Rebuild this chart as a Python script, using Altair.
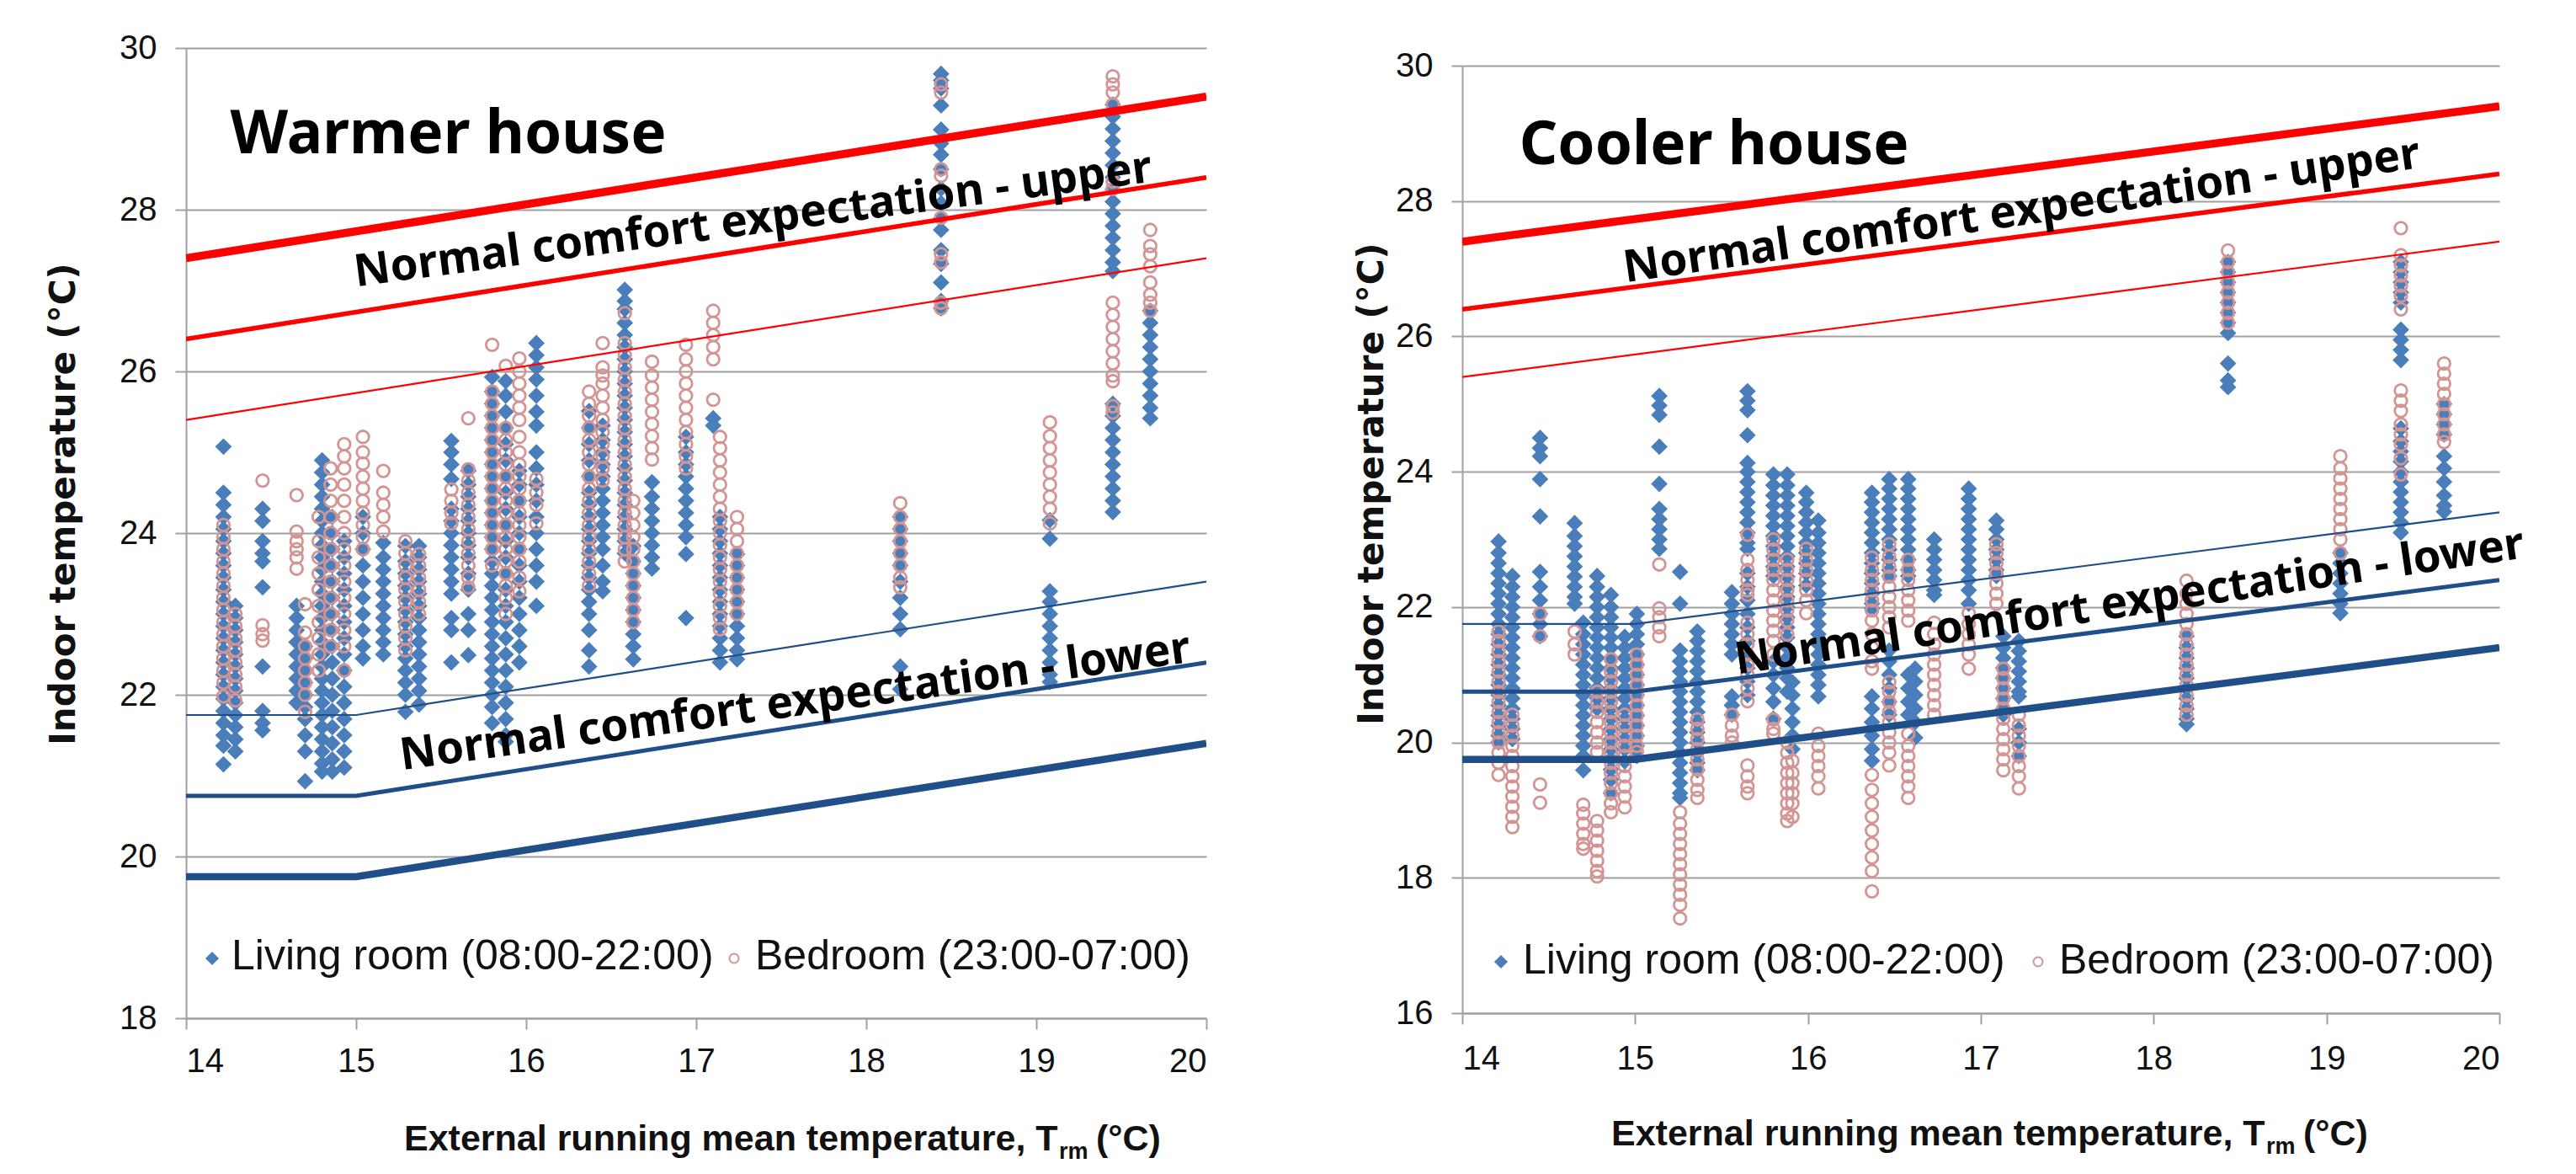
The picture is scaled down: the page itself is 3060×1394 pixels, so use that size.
import altair as alt
import pandas as pd

# ---------------- data ----------------
X_TICKS = [14, 15, 16, 17, 18, 19, 20]
WARM_Y_TICKS = [18, 20, 22, 24, 26, 28, 30]
COOL_Y_TICKS = [16, 18, 20, 22, 24, 26, 28, 30]
SERIES = ["Living room (08:00-22:00)", "Bedroom (23:00-07:00)"]
HOUSES = ["Warmer house", "Cooler house"]
LABEL_UPPER = "Normal  comfort expectation - upper"
LABEL_LOWER = "Normal  comfort expectation - lower"

# comfort band lines (knots)
UPPER_X = [14, 20]
UPPER_THICK = [27.4, 29.4]
UPPER_MID = [26.4, 28.4]
UPPER_THIN = [25.4, 27.4]
LOWER_X = [14, 15, 20]
LOWER_THIN = [21.75, 21.75, 23.4]
LOWER_MID = [20.75, 20.75, 22.4]
LOWER_THICK = [19.75, 19.75, 21.4]

# Warmer house - living room
WARM_LIV_X = [14.22, 14.29, 14.45, 14.65, 14.70, 14.80, 14.86, 14.93, 15.04, 15.16, 15.29, 15.37,
              15.56, 15.66, 15.80, 15.88, 15.96, 16.06, 16.37, 16.45, 16.58, 16.63, 16.74, 16.94,
              17.10, 17.14, 17.24, 18.20, 18.44, 19.08, 19.45, 19.67]
WARM_LIV_Y = [
    [25.07, 24.5, 24.35, 24.2, 24.05, 23.9, 23.75, 23.6, 23.45, 23.3, 23.15, 23.0, 22.85, 22.7, 22.55, 22.4, 22.25, 22.1, 21.95, 21.8, 21.65, 21.5, 21.37, 21.14],
    [23.1, 22.95, 22.8, 22.65, 22.5, 22.35, 22.2, 22.05, 21.9, 21.75, 21.6, 21.45, 21.3],
    [24.3, 24.15, 23.9, 23.75, 23.65, 23.33, 22.35, 21.8, 21.65, 21.56],
    [23.1, 22.95, 22.8, 22.65, 22.5, 22.35, 22.2, 22.05, 21.9],
    [22.6, 22.45, 22.3, 22.15, 22.0, 21.85, 21.7, 21.5, 21.3, 20.93],
    [24.9, 24.75, 24.6, 24.45, 24.3, 24.15, 24.0, 23.85, 23.7, 23.55, 23.4, 23.25, 23.1, 22.95, 22.8, 22.65, 22.5, 22.35, 22.2, 22.05, 21.9, 21.75, 21.6, 21.45, 21.3, 21.15, 21.05],
    [24.2, 24.0, 23.8, 23.6, 23.4, 23.2, 23.0, 22.8, 22.6, 22.4, 22.2, 22.0, 21.8, 21.6, 21.4, 21.2, 21.05],
    [23.9, 23.7, 23.5, 23.3, 23.1, 22.9, 22.7, 22.5, 22.3, 22.1, 21.9, 21.7, 21.5, 21.3, 21.1],
    [24.2, 24.0, 23.8, 23.6, 23.4, 23.2, 23.0, 22.8, 22.6, 22.45],
    [23.88, 23.7, 23.55, 23.4, 23.25, 23.1, 22.95, 22.8, 22.65, 22.5],
    [23.84, 23.65, 23.5, 23.35, 23.2, 23.05, 22.9, 22.75, 22.6, 22.45, 22.3, 22.15, 22.0, 21.79],
    [23.84, 23.7, 23.55, 23.4, 23.25, 23.1, 22.95, 22.8, 22.65, 22.5, 22.35, 22.2, 22.05, 21.88],
    [25.14, 25.0, 24.85, 24.67, 24.3, 24.15, 24.0, 23.85, 23.7, 23.55, 23.4, 23.25, 22.95, 22.8, 22.4],
    [24.77, 24.6, 24.45, 24.3, 24.15, 24.0, 23.85, 23.7, 23.5, 23.3, 23.0, 22.8, 22.49],
    [25.93, 25.75, 25.6, 25.45, 25.3, 25.15, 25.0, 24.85, 24.7, 24.55, 24.4, 24.25, 24.1, 23.95, 23.8, 23.65, 23.5, 23.35, 23.2, 23.05, 22.9, 22.75, 22.6, 22.45, 22.3, 22.15, 22.0, 21.85, 21.65],
    [25.88, 25.7, 25.5, 25.3, 25.1, 24.9, 24.7, 24.5, 24.3, 24.1, 23.9, 23.7, 23.5, 23.3, 23.1, 22.9, 22.7, 22.5, 22.3, 22.1, 21.9, 21.7, 21.5, 21.42],
    [24.77, 24.6, 24.4, 24.2, 24.0, 23.8, 23.6, 23.4, 23.2, 23.0, 22.8, 22.6, 22.4],
    [26.35, 26.2, 26.05, 25.9, 25.7, 25.5, 25.33, 25.0, 24.8, 24.6, 24.4, 24.2, 24.0, 23.8, 23.6, 23.4, 23.1],
    [25.51, 25.3, 25.1, 24.9, 24.7, 24.5, 24.35, 24.2, 24.05, 23.9, 23.75, 23.6, 23.45, 23.3, 23.15, 23.0, 22.8, 22.55, 22.35],
    [25.33, 25.15, 25.0, 24.85, 24.7, 24.55, 24.4, 24.25, 24.1, 23.95, 23.8, 23.6, 23.4, 23.28],
    [27.01, 26.87, 26.77, 26.6, 26.45, 26.3, 26.15, 26.0, 25.85, 25.7, 25.55, 25.4, 25.25, 25.1, 24.95, 24.8, 24.65, 24.5, 24.35, 24.2, 24.05, 23.9, 23.75],
    [23.84, 23.65, 23.5, 23.35, 23.2, 23.05, 22.9, 22.75, 22.6, 22.44],
    [24.63, 24.45, 24.3, 24.15, 24.0, 23.85, 23.7, 23.56],
    [25.19, 25.0, 24.85, 24.7, 24.55, 24.4, 24.25, 24.1, 23.95, 23.74, 22.95],
    [25.42, 25.33],
    [24.2, 24.05, 23.9, 23.75, 23.6, 23.45, 23.3, 23.15, 23.0, 22.85, 22.7, 22.55, 22.4],
    [23.74, 23.6, 23.45, 23.3, 23.15, 23.0, 22.85, 22.7, 22.55, 22.44],
    [24.2, 24.05, 23.9, 23.75, 23.6, 23.4, 23.2, 23.0, 22.81, 22.35, 22.07],
    [29.68, 29.6, 29.5, 29.29, 28.99, 28.82, 28.68, 28.5, 28.26, 28.08, 27.89, 27.75, 27.5, 27.33, 27.1, 26.87, 26.78],
    [24.16, 23.93, 23.28, 23.15, 23.0, 22.85, 22.7, 22.55, 22.4, 22.25, 22.16],
    [29.3, 29.15, 29.0, 28.85, 28.7, 28.55, 28.4, 28.25, 28.1, 27.95, 27.8, 27.65, 27.5, 27.35, 27.24, 25.6, 25.45, 25.3, 25.15, 25.0, 24.85, 24.7, 24.55, 24.4, 24.26],
    [26.75, 26.6, 26.45, 26.3, 26.15, 26.0, 25.85, 25.7, 25.55, 25.42],
]

# Warmer house - bedroom
WARM_BED_X = [14.22, 14.29, 14.45, 14.65, 14.70, 14.78, 14.85, 14.93, 15.04, 15.16, 15.29, 15.37,
              15.56, 15.66, 15.80, 15.88, 15.96, 16.06, 16.37, 16.45, 16.58, 16.63, 16.74, 16.94,
              17.10, 17.14, 17.24, 18.20, 18.44, 19.08, 19.45, 19.67]
WARM_BED_Y = [
    [24.1, 23.95, 23.8, 23.65, 23.5, 23.35, 23.2, 23.05, 22.9, 22.75, 22.6, 22.45, 22.3, 22.15, 21.98],
    [23.0, 22.85, 22.7, 22.55, 22.4, 22.25, 22.1, 21.93],
    [24.65, 22.86, 22.75, 22.67],
    [24.47, 24.02, 23.9, 23.8, 23.7, 23.56],
    [23.12, 22.77, 22.6, 22.45, 22.3, 22.15, 22.0, 21.79],
    [24.2, 23.9, 23.7, 23.5, 23.3, 23.1, 22.9, 22.7, 22.5, 22.3],
    [24.8, 24.6, 24.4, 24.2, 24.0, 23.8, 23.6, 23.4, 23.2, 23.0, 22.8, 22.6],
    [25.1, 24.95, 24.8, 24.6, 24.4, 24.2, 24.0, 23.8, 23.6, 23.4, 23.2, 23.0, 22.8, 22.6, 22.3],
    [25.19, 25.0, 24.86, 24.7, 24.55, 24.4, 24.25, 24.1, 23.95, 23.8],
    [24.77, 24.5, 24.35, 24.2, 24.02],
    [23.9, 23.75, 23.6, 23.45, 23.3, 23.15, 23.0, 22.85, 22.7, 22.55],
    [23.74, 23.6, 23.45, 23.3, 23.15, 23.0],
    [24.54, 24.4, 24.25, 24.12],
    [25.42, 24.79, 24.65, 24.5, 24.35, 24.2, 24.05, 23.9, 23.75, 23.6, 23.45, 23.33],
    [26.33, 25.75, 25.6, 25.45, 25.3, 25.15, 25.0, 24.85, 24.7, 24.55, 24.4, 24.25, 24.1, 23.95, 23.8, 23.6],
    [26.07, 25.3, 25.15, 25.0, 24.85, 24.7, 24.55, 24.4, 24.25, 24.1, 23.95, 23.8, 23.65, 23.5, 23.35, 23.2, 23.0],
    [26.16, 26.0, 25.85, 25.7, 25.55, 25.4, 25.19, 25.0, 24.85, 24.7, 24.55, 24.4, 24.25, 24.1, 23.95, 23.8, 23.65, 23.45, 23.28],
    [24.67, 24.5, 24.35, 24.12],
    [25.75, 25.6, 25.45, 25.3, 25.15, 25.0, 24.85, 24.7, 24.55, 24.4, 24.25, 24.1, 23.95, 23.8, 23.65, 23.5, 23.35],
    [26.35, 26.05, 25.95, 25.85, 25.7, 25.55, 25.4, 25.25, 25.1, 24.95, 24.8, 24.65],
    [26.72, 26.35, 26.2, 26.05, 25.9, 25.75, 25.6, 25.45, 25.3, 25.15, 25.0, 24.85, 24.7, 24.55, 24.4, 24.25, 24.1, 23.95, 23.8, 23.65],
    [24.4, 24.25, 24.1, 23.95, 23.8, 23.65, 23.5, 23.35, 23.2, 23.05, 22.9],
    [26.12, 25.95, 25.8, 25.65, 25.5, 25.35, 25.2, 25.05, 24.91],
    [26.33, 26.15, 26.0, 25.85, 25.7, 25.55, 25.4, 25.25, 25.1, 24.95, 24.8],
    [26.75, 26.6, 26.45, 26.3, 26.15, 25.65],
    [25.19, 25.05, 24.9, 24.75, 24.6, 24.45, 24.3, 24.15, 24.0, 23.85, 23.7, 23.55, 23.4, 23.25, 23.1, 22.95, 22.81],
    [24.2, 24.05, 23.9, 23.75, 23.6, 23.45, 23.3, 23.15, 23.0],
    [24.37, 24.2, 24.05, 23.9, 23.75, 23.6, 23.45, 23.33],
    [29.55, 29.45, 28.5, 28.42, 27.9, 27.45, 27.35, 26.85, 26.78],
    [25.37, 25.2, 25.05, 24.9, 24.75, 24.6, 24.45, 24.3, 24.12],
    [29.65, 29.55, 29.45, 29.3, 28.35, 28.26, 26.85, 26.7, 26.55, 26.4, 26.25, 26.1, 25.95, 25.88, 25.57, 25.49],
    [27.75, 27.55, 27.45, 27.3, 27.1, 26.95, 26.85, 26.75],
]

# Cooler house - living room
COOL_LIV_X = [14.21, 14.29, 14.45, 14.65, 14.70, 14.78, 14.86, 14.94, 15.01, 15.14, 15.26, 15.36,
              15.56, 15.65, 15.80, 15.88, 15.91, 15.99, 16.06, 16.37, 16.47, 16.58, 16.62, 16.73,
              16.93, 17.09, 17.13, 17.22, 18.19, 18.43, 19.08, 19.43, 19.68]
COOL_LIV_Y = [
    [22.97, 22.8, 22.65, 22.5, 22.35, 22.2, 22.05, 21.9, 21.75, 21.6, 21.45, 21.3, 21.15, 21.0, 20.85, 20.7, 20.55, 20.4, 20.25, 20.1, 20.0],
    [22.46, 22.3, 22.15, 22.0, 21.85, 21.7, 21.55, 21.4, 21.25, 21.1, 20.95, 20.8, 20.65, 20.5, 20.35, 20.2, 20.05],
    [24.5, 24.35, 24.23, 23.89, 23.34, 22.52, 22.3, 22.1, 21.9, 21.75, 21.57],
    [23.24, 23.05, 22.9, 22.75, 22.6, 22.45, 22.3, 22.15, 22.05],
    [21.77, 21.6, 21.45, 21.3, 21.15, 21.0, 20.85, 20.7, 20.55, 20.4, 20.25, 20.1, 19.95, 19.8, 19.59],
    [22.46, 22.3, 22.15, 22.0, 21.85, 21.7, 21.55, 21.4, 21.25, 21.1, 20.95, 20.8, 20.65, 20.5],
    [22.18, 22.0, 21.85, 21.7, 21.55, 21.4, 21.25, 21.1, 20.95, 20.8, 20.65, 20.5, 20.35, 20.2, 20.05, 19.9, 19.75, 19.6, 19.45, 19.25],
    [21.56, 21.4, 21.25, 21.1, 20.95, 20.8, 20.65, 20.5, 20.35, 20.2, 20.05, 19.9, 19.72],
    [21.9, 21.75, 21.6, 21.45, 21.3, 21.15, 21.0, 20.85, 20.7, 20.55, 20.4, 20.25, 20.1, 19.95, 19.8],
    [25.12, 24.98, 24.84, 24.37, 23.82, 23.45, 23.3, 23.15, 23.0, 22.86],
    [22.52, 22.05, 21.36, 21.2, 21.05, 20.9, 20.75, 20.6, 20.45, 20.3, 20.15, 20.0, 19.85, 19.7, 19.55, 19.4, 19.25, 19.18],
    [21.64, 21.5, 21.35, 21.2, 21.05, 20.9, 20.75, 20.6, 20.45, 20.3, 20.15, 20.0, 19.85, 19.7, 19.59],
    [22.22, 22.05, 21.9, 21.75, 21.6, 21.45, 21.3, 20.68, 20.55, 20.41],
    [25.19, 25.05, 24.91, 24.54, 24.13, 24.0, 23.85, 23.7, 23.55, 23.4, 23.25, 23.1, 22.95, 22.86, 22.5, 22.3, 22.1, 21.9, 21.7, 21.5, 21.3, 21.1, 20.9, 20.7],
    [23.96, 23.8, 23.65, 23.5, 23.35, 23.2, 23.05, 22.9, 22.75, 22.6, 22.46, 21.2, 21.0, 20.8, 20.6, 20.35],
    [23.96, 23.8, 23.65, 23.5, 23.35, 23.2, 23.05, 22.9, 22.75, 22.6, 22.45, 22.3, 22.15, 22.0, 21.85, 21.7, 21.55, 21.4, 21.25, 21.1, 20.95, 20.75],
    [20.89, 20.7, 20.5, 20.3, 20.1, 19.9],
    [23.69, 23.55, 23.4, 23.25, 23.1, 22.95, 22.8, 22.65, 22.5, 22.32],
    [23.28, 23.1, 22.95, 22.8, 22.65, 22.5, 22.35, 22.2, 22.05, 21.9, 21.75, 21.6, 21.45, 21.3, 21.15, 21.0, 20.85, 20.68],
    [23.69, 23.55, 23.4, 23.25, 23.1, 22.95, 22.8, 22.65, 22.5, 22.35, 22.2, 22.05, 21.98, 20.68, 20.5, 20.3, 20.1, 19.9, 19.73],
    [23.89, 23.75, 23.6, 23.45, 23.3, 23.15, 23.0, 22.85, 22.7, 22.55, 22.46, 21.36, 21.2, 21.0, 20.8, 20.6, 20.41],
    [23.89, 23.75, 23.6, 23.45, 23.3, 23.15, 23.0, 22.85, 22.7, 22.55, 22.46, 21.0, 20.8, 20.6, 20.41],
    [21.09, 20.9, 20.7, 20.5, 20.3, 20.07],
    [23.0, 22.85, 22.7, 22.55, 22.4, 22.25, 22.18],
    [23.75, 23.6, 23.45, 23.3, 23.15, 23.0, 22.85, 22.7, 22.55, 22.4, 22.25, 22.05],
    [23.28, 23.15, 23.0, 22.85, 22.7, 22.55, 22.46],
    [21.57, 21.4, 21.25, 21.1, 20.95, 20.8, 20.65, 20.5, 20.41],
    [21.5, 21.35, 21.2, 21.05, 20.9, 20.75, 20.68, 20.2, 20.0, 19.8],
    [21.57, 21.4, 21.25, 21.1, 20.95, 20.8, 20.65, 20.5, 20.35, 20.27],
    [27.1, 26.95, 26.8, 26.65, 26.5, 26.35, 26.2, 26.05, 25.6, 25.35, 25.25],
    [22.8, 22.65, 22.5, 22.35, 22.2, 22.05, 21.91],
    [27.1, 26.95, 26.8, 26.65, 26.5, 26.1, 25.95, 25.8, 25.65, 24.64, 24.45, 24.3, 24.15, 24.0, 23.85, 23.7, 23.55, 23.4, 23.25, 23.1],
    [25.0, 24.85, 24.7, 24.55, 24.23, 24.05, 23.85, 23.65, 23.5, 23.41],
]

# Cooler house - bedroom
COOL_BED_X = [14.21, 14.29, 14.45, 14.65, 14.70, 14.78, 14.86, 14.94, 15.01, 15.14, 15.26, 15.36,
              15.56, 15.65, 15.80, 15.88, 15.91, 15.99, 16.06, 16.37, 16.47, 16.58, 16.73, 16.93,
              17.09, 17.13, 17.22, 18.19, 18.43, 19.08, 19.43, 19.68]
COOL_BED_Y = [
    [21.64, 21.5, 21.35, 21.2, 21.05, 20.9, 20.75, 20.6, 20.45, 20.3, 20.15, 20.0, 19.85, 19.7, 19.52],
    [20.41, 20.25, 20.1, 19.95, 19.8, 19.65, 19.5, 19.35, 19.2, 19.05, 18.9, 18.75],
    [21.9, 21.57, 19.38, 19.11],
    [21.64, 21.45, 21.3],
    [19.08, 18.95, 18.8, 18.65, 18.5, 18.43],
    [20.75, 20.6, 20.45, 20.3, 20.15, 20.0, 19.86, 18.84, 18.7, 18.55, 18.4, 18.25, 18.1, 18.02],
    [21.23, 21.05, 20.9, 20.75, 20.6, 20.45, 20.3, 20.15, 20.0, 19.85, 19.7, 19.55, 19.4, 19.25, 19.1, 18.97],
    [20.41, 20.25, 20.1, 19.95, 19.8, 19.65, 19.5, 19.35, 19.2, 19.04],
    [21.3, 21.15, 21.0, 20.85, 20.7, 20.55, 20.4, 20.25, 20.1, 19.95, 19.86],
    [22.63, 21.98, 21.85, 21.7, 21.57],
    [18.97, 18.8, 18.65, 18.5, 18.35, 18.2, 18.05, 17.9, 17.75, 17.6, 17.4],
    [20.34, 20.2, 20.05, 19.9, 19.75, 19.6, 19.45, 19.3, 19.18],
    [20.41, 20.25, 20.1, 20.0],
    [23.07, 22.7, 22.55, 22.4, 22.25, 22.18, 21.77, 21.6, 21.45, 21.3, 21.15, 21.0, 20.8, 20.61, 19.66, 19.5, 19.35, 19.25],
    [23.0, 22.85, 22.7, 22.55, 22.4, 22.25, 22.1, 21.95, 21.8, 21.65, 21.5, 21.3, 20.34, 20.2, 20.13],
    [22.7, 22.55, 22.4, 22.25, 22.1, 21.95, 21.8, 21.6, 20.0, 19.85, 19.7, 19.55, 19.4, 19.25, 19.1, 18.95, 18.84],
    [19.73, 19.55, 19.4, 19.25, 19.1, 18.9],
    [22.86, 22.7, 22.55, 22.4, 22.25, 22.1, 21.91],
    [20.13, 19.95, 19.8, 19.65, 19.5, 19.32],
    [22.73, 22.55, 22.4, 22.25, 22.1, 21.95, 21.8, 21.6, 21.4, 21.2, 21.09, 19.52, 19.3, 19.1, 18.9, 18.7, 18.5, 18.3, 18.1, 17.8],
    [22.93, 22.75, 22.6, 22.45, 22.3, 22.15, 22.0, 21.85, 21.7, 20.89, 20.75, 20.6, 20.45, 20.3, 20.15, 20.0, 19.85, 19.66],
    [22.7, 22.55, 22.4, 22.25, 22.1, 21.95, 21.8, 20.13, 19.95, 19.8, 19.65, 19.5, 19.35, 19.18],
    [21.77, 21.6, 21.45, 21.3, 21.15, 21.0, 20.85, 20.7, 20.55, 20.41],
    [21.91, 21.75, 21.6, 21.45, 21.3, 21.09],
    [22.93, 22.8, 22.65, 22.5, 22.35, 22.2, 22.05],
    [21.09, 20.95, 20.8, 20.65, 20.5, 20.35, 20.2, 20.05, 19.9, 19.75, 19.59],
    [20.41, 20.25, 20.1, 19.95, 19.8, 19.65, 19.5, 19.32],
    [22.39, 22.2, 22.05, 21.9, 21.75, 21.6, 21.45, 21.3, 21.15, 21.0, 20.85, 20.7, 20.55, 20.41],
    [27.27, 27.1, 26.95, 26.8, 26.65, 26.5, 26.35, 26.2],
    [24.23, 24.05, 23.9, 23.75, 23.6, 23.45, 23.3, 23.15, 23.0, 22.8],
    [27.6, 27.2, 27.05, 26.9, 26.75, 26.6, 26.4, 25.2, 25.05, 24.9, 24.7, 24.55, 24.4, 24.2, 23.96],
    [25.6, 25.45, 25.3, 25.15, 25.0, 24.85, 24.7, 24.55, 24.44],
]

# ---------------- styling ----------------
BLUE_PT = "#4A7EBB"
PINK_PT = "#D39593"
RED = "#FF0000"
NAVY = "#1F4E89"
GRID = "#A0A0A0"
TXT = "#111111"


def points_df(xs, ys):
    rows = []
    for x, col in zip(xs, ys):
        for y in col:
            rows.append({"x": x, "y": y})
    return pd.DataFrame(rows)


def lines_df():
    rows = []
    specs = [
        ("u_thick", UPPER_X, UPPER_THICK, RED, 9.5),
        ("u_mid", UPPER_X, UPPER_MID, RED, 5.5),
        ("u_thin", UPPER_X, UPPER_THIN, RED, 2.2),
        ("l_thin", LOWER_X, LOWER_THIN, NAVY, 2.2),
        ("l_mid", LOWER_X, LOWER_MID, NAVY, 5.0),
        ("l_thick", LOWER_X, LOWER_THICK, NAVY, 8.5),
    ]
    for name, xs, ys, col, w in specs:
        for i, (x, y) in enumerate(zip(xs, ys)):
            rows.append({"id": name, "o": i, "x": x, "y": y, "c": col, "w": w})
    return pd.DataFrame(rows)


def one():
    return pd.DataFrame({"k": [0]})


def panel(liv_x, liv_y, bed_x, bed_y, y_ticks, width, height, y_range,
          title_x, title_y, xlab_pad, house, house_xy, upper_xy, upper_ang, lower_xy, lower_ang,
          leg, xt_x, xt_y):
    xs = alt.Scale(domain=[14, 20], nice=False, zero=False)
    ys = alt.Scale(domain=[y_ticks[0], 30], nice=False, zero=False, range=y_range)
    xaxis = alt.Axis(values=X_TICKS, format="d", title=None, grid=False,
                     labelFont="Liberation Sans", labelFontSize=40, labelColor=TXT,
                     labelPadding=xlab_pad, tickSize=13, tickWidth=2, tickColor=GRID,
                     domainColor=GRID, domainWidth=2)
    yaxis = alt.Axis(values=y_ticks, format="d", title="Indoor temperature (°C)", grid=True,
                     gridColor=GRID, gridWidth=2, labelFont="Liberation Sans", labelFontSize=40,
                     labelColor=TXT, labelPadding=22, tickSize=13, tickWidth=2, tickColor=GRID,
                     domainColor=GRID, domainWidth=2,
                     titleFont="DejaVu Sans", titleFontSize=42, titleFontWeight="bold",
                     titleColor=TXT, titleAngle=270, titleBaseline="middle", titleAlign="center",
                     titleX=title_x, titleY=title_y)
    X = alt.X("x:Q", scale=xs, axis=xaxis)
    Y = alt.Y("y:Q", scale=ys, axis=yaxis)

    liv = alt.Chart(points_df(liv_x, liv_y)).mark_point(
        shape="diamond", filled=True, size=390, color=BLUE_PT, opacity=1, strokeWidth=0
    ).encode(x=X, y=Y)
    bed = alt.Chart(points_df(bed_x, bed_y)).mark_point(
        shape="circle", filled=False, size=210, strokeWidth=2.8, color=PINK_PT, opacity=1
    ).encode(x=X, y=Y)
    lines = alt.Chart(lines_df()).mark_line(strokeCap="butt", clip=True).encode(
        x=X, y=Y, detail="id:N", order="o:Q",
        color=alt.Color("c:N", scale=None),
        strokeWidth=alt.StrokeWidth("w:Q", scale=None),
    )

    def ann(xy, text, size, angle):
        df = pd.DataFrame({"x": [xy[0]], "y": [xy[1]]})
        return alt.Chart(df).mark_text(
            text=text, font="Noto Sans", fontWeight="bold", fontSize=size, color="#000000",
            align="left", baseline="alphabetic", angle=angle
        ).encode(x=X, y=Y)

    t_house = ann(house_xy, house, 71, 0)
    t_up = ann(upper_xy, LABEL_UPPER, 53, upper_ang)
    t_lo = ann(lower_xy, LABEL_LOWER, 53, lower_ang)

    # manual legend
    ld = alt.Chart(one()).mark_point(shape="diamond", filled=True, size=260, color=BLUE_PT,
                                      opacity=1, strokeWidth=0).encode(
        x=alt.value(leg[0]), y=alt.value(leg[1]))
    lt1 = alt.Chart(one()).mark_text(font="Liberation Sans", fontSize=50, color=TXT,
                                      align="left", baseline="alphabetic").encode(
        x=alt.value(leg[2]), y=alt.value(leg[4]), text=alt.value(SERIES[0]))
    lc = alt.Chart(one()).mark_point(shape="circle", filled=False, size=120, strokeWidth=2,
                                      color=PINK_PT, opacity=1).encode(
        x=alt.value(leg[3]), y=alt.value(leg[1]))
    lt2 = alt.Chart(one()).mark_text(font="Liberation Sans", fontSize=50, color=TXT,
                                      align="left", baseline="alphabetic").encode(
        x=alt.value(leg[3] + 25), y=alt.value(leg[4]), text=alt.value(SERIES[1]))

    # x title with subscript
    xa = alt.Chart(one()).mark_text(font="Liberation Sans", fontSize=43, fontWeight="bold",
                                     color=TXT, align="left", baseline="alphabetic").encode(
        x=alt.value(xt_x), y=alt.value(xt_y),
        text=alt.value("External running mean temperature, T"))
    xb = alt.Chart(one()).mark_text(font="Liberation Sans", fontSize=27, fontWeight="bold",
                                     color=TXT, align="left", baseline="alphabetic").encode(
        x=alt.value(xt_x + 778), y=alt.value(xt_y + 10), text=alt.value("rm"))
    xc = alt.Chart(one()).mark_text(font="Liberation Sans", fontSize=43, fontWeight="bold",
                                     color=TXT, align="left", baseline="alphabetic").encode(
        x=alt.value(xt_x + 822), y=alt.value(xt_y), text=alt.value("(°C)"))

    return alt.layer(liv, bed, lines, t_house, t_up, t_lo, ld, lt1, lc, lt2, xa, xb, xc).properties(
        width=width, height=height)


left = panel(WARM_LIV_X, WARM_LIV_Y, WARM_BED_X, WARM_BED_Y, WARM_Y_TICKS,
             1212, 1152, [1152, 0], -146, 541, 18, HOUSES[0],
             (14.26, 28.70), (15.0, 27.05), 352.5, (15.27, 21.07), 352.2,
             (31, 1081, 54, 651, 1094), 259, 1309)
right = panel(COOL_LIV_X, COOL_LIV_Y, COOL_BED_X, COOL_BED_Y, COOL_Y_TICKS,
              1232, 1146, [1146, 21], -108, 517, 21, HOUSES[1],
              (14.33, 28.55), (14.945, 26.80), 351.8, (15.59, 21.01), 351.6,
              (46, 1085, 72, 684, 1099), 177, 1303)

chart = alt.hconcat(left, right, spacing=173).properties(
    padding={"left": 46, "top": 29, "right": 0, "bottom": 0},
    background="white",
).configure_view(stroke=None)

chart.save("out.html", embed_options={"renderer": "svg", "actions": False})
